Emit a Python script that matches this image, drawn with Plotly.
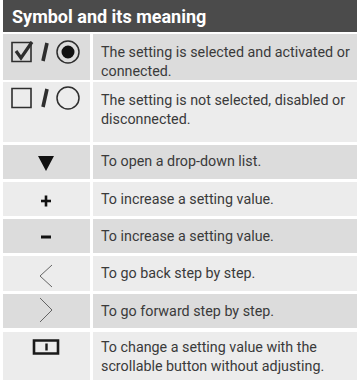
import plotly.graph_objects as go

# ---- data ----
title = "Symbol and its meaning"
symbols = ["check_on", "check_off", "dropdown", "plus", "minus", "back", "forward", "slider"]
meanings = [
    "The setting is selected and activated or<br>connected.",
    "The setting is not selected, disabled or<br>disconnected.",
    "To open a drop-down list.",
    "To increase a setting value.",
    "To increase a setting value.",
    "To go back step by step.",
    "To go forward step by step.",
    "To change a setting value with the<br>scrollable button without adjusting.",
]

# ---- layout geometry (pixels) ----
W, H = 357, 380
row_spans = [(34, 80), (82, 142), (145, 179), (182, 216), (219, 253), (256, 291), (294, 328), (332, 380)]
text_centers = [61, 109, 161, 199, 236, 273, 311, 356]
sym_centers = [52, 98, 163, 201, 237, 276, 310, 347]
row_fills = ["#dcdcdc", "#ececec"]
x_left, x_split, x_right0 = 3, 90, 93
sym_cx = 46
ink = "#2e2e2e"

fig = go.Figure()
shapes = []
annotations = []

# header
shapes.append(dict(type="rect", x0=x_left, x1=W, y0=0, y1=32, fillcolor="#4b4b4b", line_width=0, layer="below"))
annotations.append(dict(x=10, y=16, text="<b>" + title + "</b>", showarrow=False, xanchor="left", yanchor="middle",
                        font=dict(family="Roboto", size=18, color="white")))

for i, (sym, txt) in enumerate(zip(symbols, meanings)):
    y0, y1 = row_spans[i]
    fill = row_fills[i % 2]
    shapes.append(dict(type="rect", x0=x_left, x1=x_split, y0=y0, y1=y1, fillcolor=fill, line_width=0, layer="below"))
    shapes.append(dict(type="rect", x0=x_right0, x1=W, y0=y0, y1=y1, fillcolor=fill, line_width=0, layer="below"))
    annotations.append(dict(x=99, y=text_centers[i], text=txt, showarrow=False, xanchor="left", yanchor="middle",
                            align="left", font=dict(family="Roboto", size=14.3, color="#3a3a3a")))
    cy = sym_centers[i]
    if sym in ("check_on", "check_off"):
        on = sym == "check_on"
        shapes.append(dict(type="rect", x0=12, x1=31, y0=cy - 9.5, y1=cy + 9.5,
                           line=dict(color=ink, width=1.6), fillcolor="rgba(0,0,0,0)"))
        if on:
            shapes.append(dict(type="path", path=f"M 16 {cy-1} L 21 {cy+6} L 32 {cy-10}",
                               line=dict(color=ink, width=3.2)))
        shapes.append(dict(type="line", x0=47, y0=cy - 9, x1=43, y1=cy + 9, line=dict(color=ink, width=3.6)))
        shapes.append(dict(type="circle", x0=57, x1=79, y0=cy - 11, y1=cy + 11,
                           line=dict(color=ink, width=1.5), fillcolor="rgba(0,0,0,0)"))
        if on:
            shapes.append(dict(type="circle", x0=61.5, x1=74.5, y0=cy - 6.5, y1=cy + 6.5,
                               line_width=0, fillcolor="#111111"))
    elif sym == "dropdown":
        shapes.append(dict(type="path", path=f"M {sym_cx-8} {cy-7} L {sym_cx+8} {cy-7} L {sym_cx} {cy+8} Z",
                           fillcolor="#111111", line_width=0))
    elif sym == "plus":
        shapes.append(dict(type="line", x0=sym_cx - 5, x1=sym_cx + 5, y0=cy, y1=cy, line=dict(color="#111111", width=2.6)))
        shapes.append(dict(type="line", x0=sym_cx, x1=sym_cx, y0=cy - 5.5, y1=cy + 5.5, line=dict(color="#111111", width=2.6)))
    elif sym == "minus":
        shapes.append(dict(type="line", x0=sym_cx - 5, x1=sym_cx + 5, y0=cy, y1=cy, line=dict(color="#111111", width=3)))
    elif sym == "back":
        shapes.append(dict(type="path", path=f"M {sym_cx+6} {cy-11} L {sym_cx-6} {cy} L {sym_cx+6} {cy+11}",
                           line=dict(color="#555555", width=0.9)))
    elif sym == "forward":
        shapes.append(dict(type="path", path=f"M {sym_cx-6} {cy-12} L {sym_cx+6} {cy} L {sym_cx-6} {cy+12}",
                           line=dict(color="#555555", width=0.9)))
    elif sym == "slider":
        shapes.append(dict(type="rect", x0=34, x1=58, y0=cy - 6.5, y1=cy + 6.5,
                           line=dict(color="#1a1a1a", width=2.6), fillcolor="rgba(0,0,0,0)"))
        shapes.append(dict(type="line", x0=46.5, x1=46.5, y0=cy - 3.5, y1=cy + 3.5, line=dict(color="#1a1a1a", width=2.4)))

fig.update_layout(
    width=W, height=H, margin=dict(l=0, r=0, t=0, b=0),
    paper_bgcolor="white", plot_bgcolor="white",
    xaxis=dict(range=[0, W], visible=False, fixedrange=True),
    yaxis=dict(range=[H, 0], visible=False, fixedrange=True),
    shapes=shapes, annotations=annotations, showlegend=False,
)
fig.write_html("out.html", config={"displayModeBar": False},
               post_script="document.body.style.margin='0';document.body.style.overflow='hidden';")
